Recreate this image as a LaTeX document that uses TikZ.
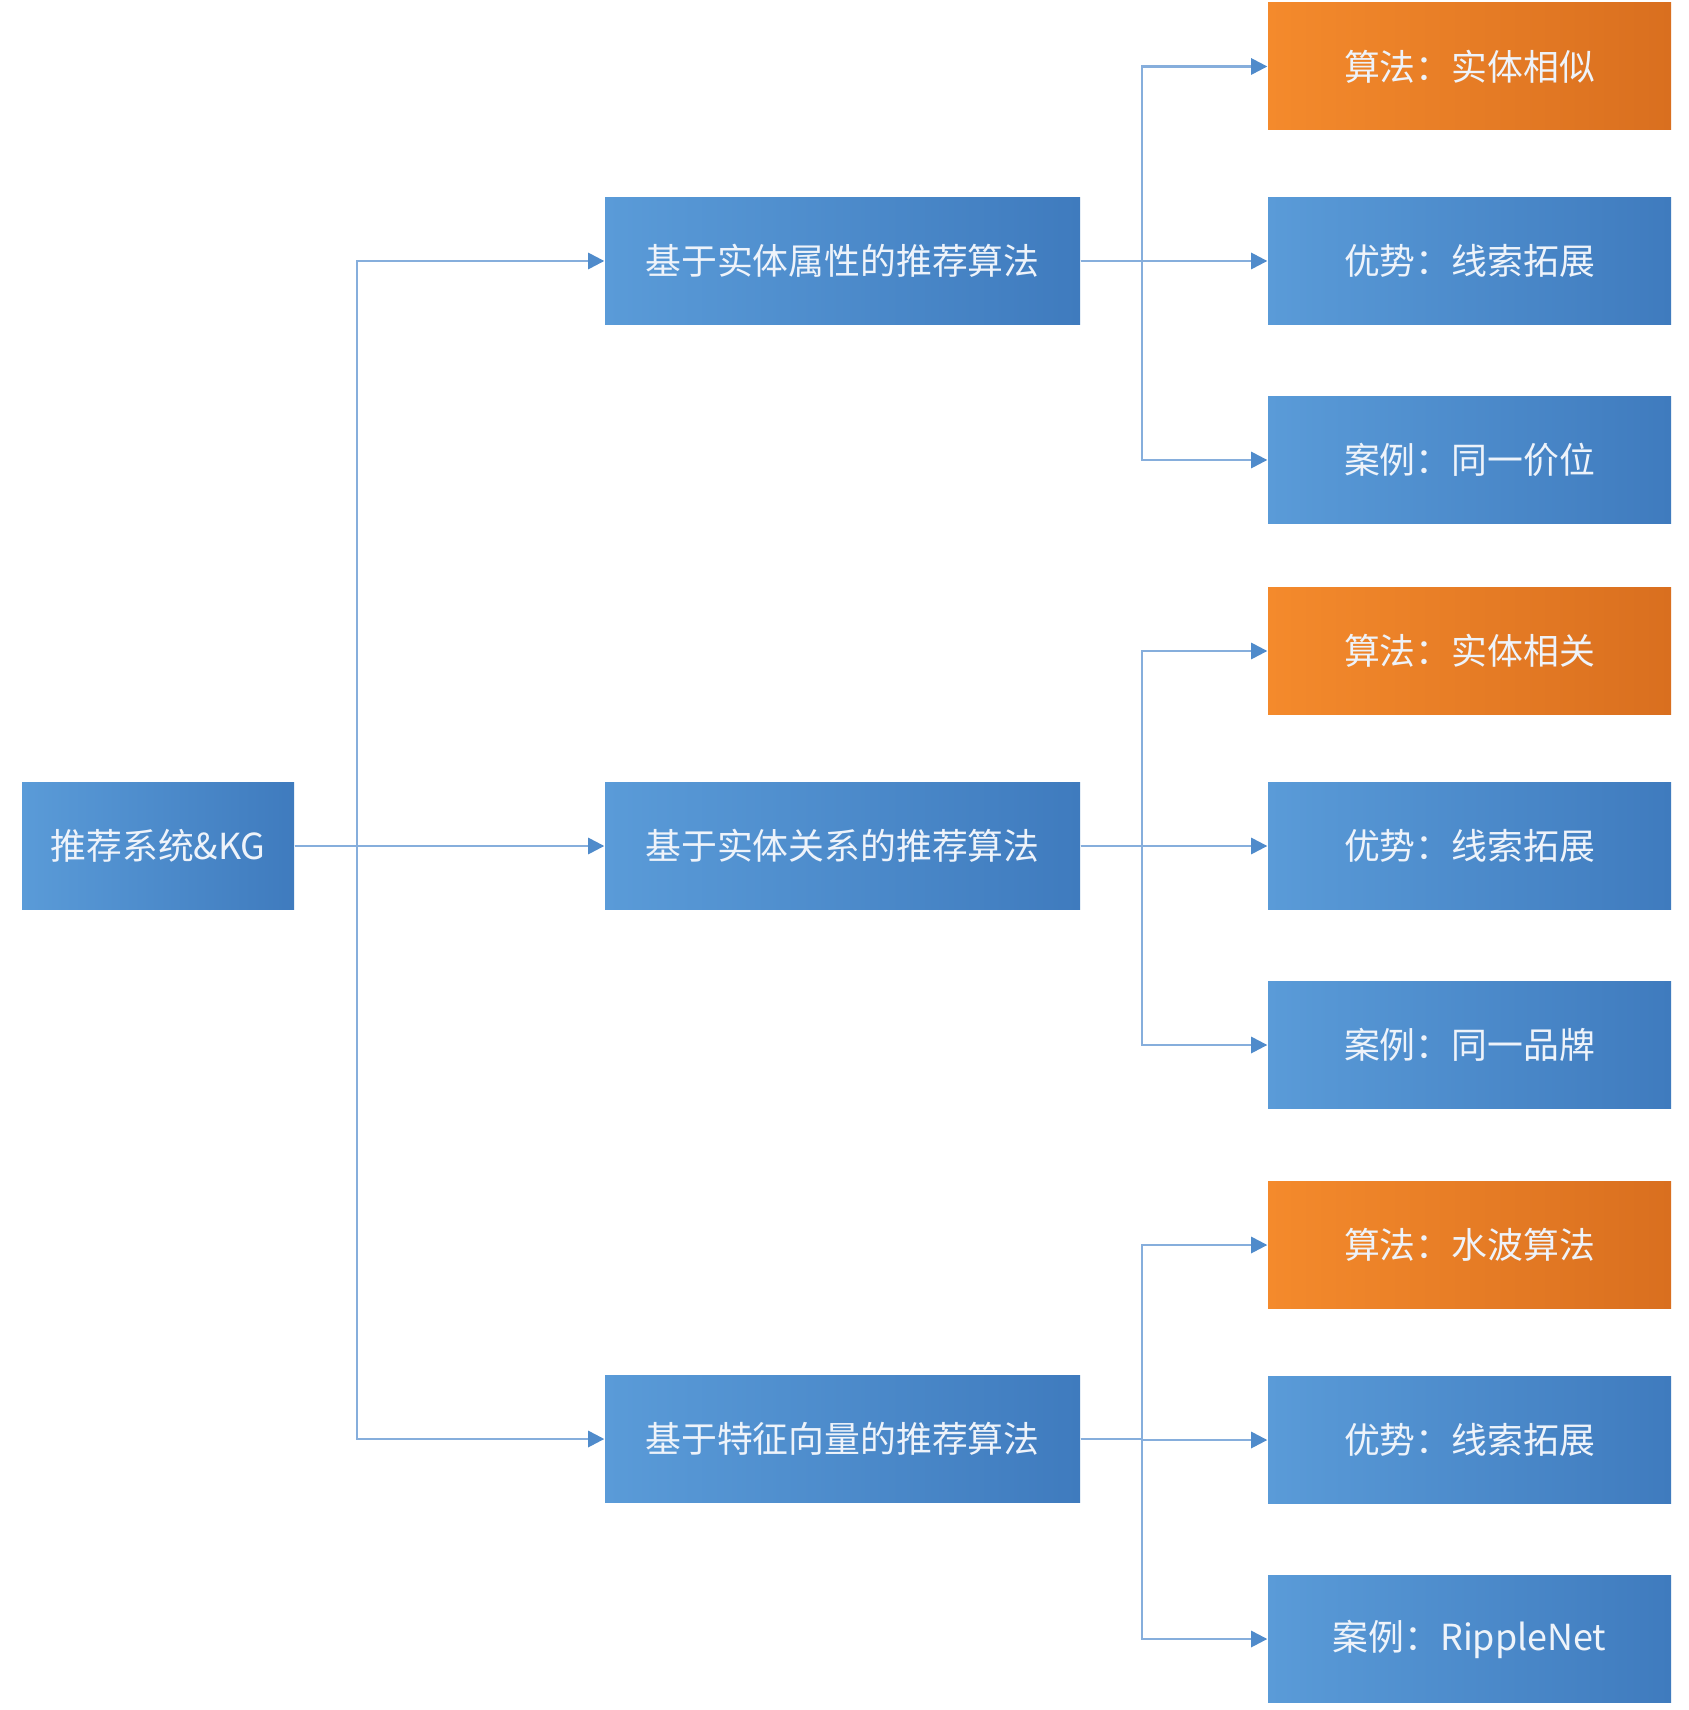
\documentclass[tikz,border=0pt]{standalone}
\usepackage{fontspec}
\newfontfamily\cjk{Noto Sans CJK SC}
\usetikzlibrary{arrows.meta}
\definecolor{blueL}{HTML}{5A9BD8}
\definecolor{blueD}{HTML}{3F7BBE}
\definecolor{orangeL}{HTML}{F48A2C}
\definecolor{orangeD}{HTML}{D96F1F}
\definecolor{linkblue}{HTML}{86AEDC}
\definecolor{tipblue}{HTML}{4F8BCB}
\definecolor{boxtext}{HTML}{EEF3FA}

\begin{document}
\begin{tikzpicture}[
  box/.style={inner sep=0pt, text=boxtext, font=\cjk\fontsize{10.2}{12}\selectfont,
    left color=blueL, right color=blueD, minimum height=1.27cm},
  hot/.style={box, left color=orangeL, right color=orangeD},
  rootbox/.style={box, minimum width=2.72cm},
  midbox/.style={box, minimum width=4.75cm},
  leaf/.style={minimum width=4.03cm},
  link/.style={draw=linkblue, line width=0.7pt,
    -{Triangle[length=4.6pt,width=4.6pt,fill=tipblue,color=tipblue]}}
]
  \useasboundingbox[fill=white] (0,0) rectangle (16.88,-17.10);

  % root and the three methods
  \node[rootbox] (root) at (1.58,-8.46) {推荐系统\&KG};
  \node[midbox] (attr) at (8.425,-2.61) {基于实体属性的推荐算法};
  \node[midbox] (rel)  at (8.425,-8.46) {基于实体关系的推荐算法};
  \node[midbox] (vec)  at (8.425,-14.39) {基于特征向量的推荐算法};

  % algorithm / advantage / example for each method
  \node[hot,leaf] (algA) at (14.695,-0.665) {算法：实体相似};
  \node[box,leaf] (advA) at (14.695,-2.61)  {优势：线索拓展};
  \node[box,leaf] (exA)  at (14.695,-4.60)  {案例：同一价位};
  \node[hot,leaf] (algR) at (14.695,-6.51)  {算法：实体相关};
  \node[box,leaf] (advR) at (14.695,-8.46)  {优势：线索拓展};
  \node[box,leaf] (exR)  at (14.695,-10.45) {案例：同一品牌};
  \node[hot,leaf] (algV) at (14.695,-12.45) {算法：水波算法};
  \node[box,leaf] (advV) at (14.695,-14.40) {优势：线索拓展};
  \node[box,leaf] (exV)  at (14.695,-16.39) {案例：RippleNet};

  % trunk and branch lines
  \coordinate (trunk) at (3.57,0);
  \coordinate (branch) at (11.42,0);

  \foreach \m in {attr,rel,vec}
    \draw[link] (root.east) -- (trunk |- root.east) |- (\m.west);

  \foreach \m/\a/\b/\c in {attr/algA/advA/exA, rel/algR/advR/exR, vec/algV/advV/exV}{
    \draw[link] (\m.east) -- (branch |- \m.east) |- (\a.west);
    \draw[link] (\m.east) -- (branch |- \m.east) |- (\b.west);
    \draw[link] (\m.east) -- (branch |- \m.east) |- (\c.west);
  }
\end{tikzpicture}
\end{document}
